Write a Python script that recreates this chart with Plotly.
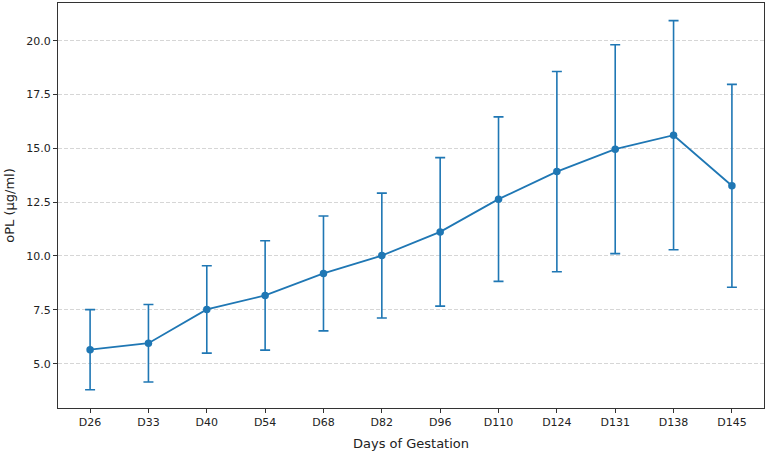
import plotly.graph_objects as go

days = ["D26", "D33", "D40", "D54", "D68", "D82", "D96", "D110", "D124", "D131", "D138", "D145"]
mean_opl = [5.65, 5.95, 7.52, 8.17, 9.19, 10.02, 11.12, 12.64, 13.92, 14.96, 15.61, 13.26]
sd_opl = [1.86, 1.80, 2.03, 2.54, 2.67, 2.90, 3.45, 3.82, 4.65, 4.85, 5.32, 4.71]
y_ticks = [5.0, 7.5, 10.0, 12.5, 15.0, 17.5, 20.0]

color = "#1f77b4"
font = "DejaVu Sans, Liberation Sans, sans-serif"

fig = go.Figure()
fig.add_trace(go.Scatter(
    x=list(range(len(days))), y=mean_opl,
    mode="lines+markers",
    line=dict(color=color, width=1.8),
    marker=dict(color=color, size=7.5),
    error_y=dict(type="data", array=sd_opl, visible=True, color=color, thickness=1.6, width=5),
    showlegend=False,
))

fig.update_layout(
    width=767, height=453,
    margin=dict(l=58, r=3, t=3, b=45),
    plot_bgcolor="white", paper_bgcolor="white",
    font=dict(family=font, size=11, color="#222222"),
    xaxis=dict(
        range=[-0.55, 11.55],
        tickmode="array", tickvals=list(range(len(days))), ticktext=days,
        showgrid=False, zeroline=False,
        showline=True, linecolor="#333333", linewidth=1, mirror=True,
        ticks="outside", ticklen=4, tickcolor="#333333",
        title=dict(text="Days of Gestation", font=dict(size=13), standoff=10),
    ),
    yaxis=dict(
        range=[2.94, 21.75],
        tickmode="array", tickvals=y_ticks, ticktext=[f"{v:.1f}" for v in y_ticks],
        showgrid=True, gridcolor="#d6d6d6", griddash="4px,2px", gridwidth=0.8,
        zeroline=False,
        showline=True, linecolor="#333333", linewidth=1, mirror=True,
        ticks="outside", ticklen=4, tickcolor="#333333",
        title=dict(text="oPL (μg/ml)", font=dict(size=13), standoff=8),
    ),
)

fig.write_html("out.html")
